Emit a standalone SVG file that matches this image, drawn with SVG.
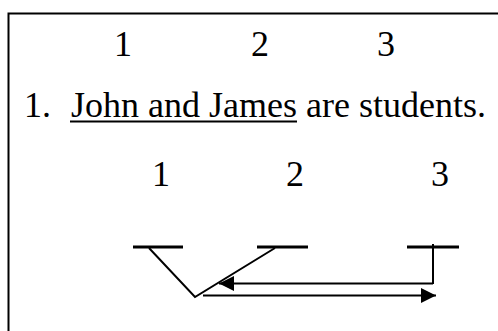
<svg xmlns="http://www.w3.org/2000/svg" width="498" height="331" viewBox="0 0 498 331">
<defs>
<style>
text{font-family:"Liberation Serif","Times New Roman",serif;font-size:36px;fill:#000}
.num{text-anchor:middle}
.bar{stroke:#000;stroke-width:3}
.ln{stroke:#000;stroke-width:2;fill:none}
</style>
<marker id="ah" viewBox="0 0 10 10" refX="10" refY="5" markerWidth="15" markerHeight="15" markerUnits="userSpaceOnUse" orient="auto">
<path d="M0,0 L10,5 L0,10 Z" fill="#000"/>
</marker>
</defs>
<rect width="498" height="331" fill="#fff"/>
<path d="M8.5,400 V13.5 H520" class="ln"/>
<g id="top-numbers">
<text class="num" x="123" y="56">1</text>
<text class="num" x="260" y="56">2</text>
<text class="num" x="386" y="56">3</text>
</g>
<g id="sentence">
<text x="24" y="116.5">1.</text>
<text x="71" y="116.5">John and James are students.</text>
<line x1="70" y1="121.5" x2="297" y2="121.5" class="ln"/>
</g>
<g id="bottom-numbers">
<text class="num" x="161" y="186">1</text>
<text class="num" x="295" y="186">2</text>
<text class="num" x="440" y="186">3</text>
</g>
<g id="slot1"><line x1="133" y1="247" x2="183" y2="247" class="bar"/></g>
<g id="slot2"><line x1="257" y1="247" x2="308" y2="247" class="bar"/></g>
<g id="slot3"><line x1="407" y1="247" x2="459" y2="247" class="bar"/></g>
<g id="connectors">
<path d="M149,248 L195,297 L275,248" class="ln"/>
<path d="M433,244 V284" class="ln"/>
<line x1="433" y1="283.5" x2="219" y2="283.5" class="ln" marker-end="url(#ah)"/>
<line x1="203" y1="295.5" x2="436" y2="295.5" class="ln" marker-end="url(#ah)"/>
</g>
</svg>
